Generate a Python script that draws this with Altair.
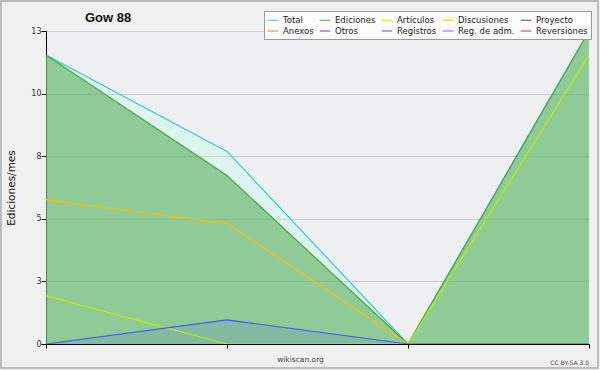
import altair as alt
import pandas as pd

# ---- data ----
months = [0, 1, 2, 3]
total = [12, 8, 0, 13]
ediciones = [12, 7, 0, 13]
articulos = [2, 0, 0, 12]
discusiones = [6, 5, 0, 0]
registros = [0, 1, 0, 0]

legend_names = ["Total", "Ediciones", "Artículos", "Discusiones", "Proyecto",
                "Anexos", "Otros", "Registros", "Reg. de adm.", "Reversiones"]
legend_colors = ["#33cccc", "#44aa44", "#bbee00", "#f0c000", "#555555",
                 "#ff7f2a", "#8822ee", "#4455ff", "#dd33ee", "#ee2222"]

y_ticks = [0, 0.65, 1.3, 1.95, 2.6, 3.25, 3.9, 4.55, 5.2, 5.85, 6.5, 7.15, 7.8,
           8.45, 9.1, 9.75, 10.4, 11.05, 11.7, 12.35, 13]
MAJOR_TEST = "indexof([0, 26, 52, 78, 104, 130], round(datum.value * 10)) >= 0"

rows = []
for name, vals in [("Total", total), ("Ediciones", ediciones), ("Discusiones", discusiones),
                   ("Artículos", articulos), ("Registros", registros)]:
    for m, v in zip(months, vals):
        rows.append({"serie": name, "mes": m, "valor": v})
df = pd.DataFrame(rows)

FONT = "DejaVu Sans"

x_enc = alt.X("mes:Q", scale=alt.Scale(domain=[0, 3], nice=False, zero=False),
              axis=alt.Axis(values=months, labels=False, grid=False, tickSize=4, zindex=1,
                            title="wikiscan.org", titleX=254, titleY=17,
                            titleAlign="center", titleBaseline="alphabetic",
                            titleFontSize=7.5, titleFontWeight="normal",
                            titleColor="#444444", titleFont=FONT))
y_enc = alt.Y("valor:Q", scale=alt.Scale(domain=[0, 13], nice=False),
              axis=alt.Axis(values=y_ticks,
                            labelExpr="(" + MAJOR_TEST + ") ? format(round(datum.value), 'd') : ''",
                            tickSize=alt.condition(MAJOR_TEST, alt.value(5), alt.value(3)),
                            gridOpacity=alt.condition(MAJOR_TEST, alt.value(1), alt.value(0)),
                            labelPadding=0, labelFontSize=8,
                            labelColor="#333333", gridColor="#cccccc",
                            title="Ediciones/mes", titleAngle=-90, titleX=-32,
                            titleY=156.5, titleAlign="center", titleBaseline="alphabetic",
                            titleFontSize=10.5, titleFontWeight="normal",
                            titleColor="#111111", titleFont=FONT))

base = alt.Chart(df)

area_total = base.transform_filter(alt.datum.serie == "Total").mark_area(
    color="#b2fce7", opacity=0.3).encode(x=x_enc, y=y_enc)
area_edic = base.transform_filter(alt.datum.serie == "Ediciones").mark_area(
    color="#5daf5b", opacity=0.6).encode(x="mes:Q", y="valor:Q")
area_reg = base.transform_filter(alt.datum.serie == "Registros").mark_area(
    color="#3344ff", opacity=0.12).encode(x="mes:Q", y="valor:Q")

lines = base.mark_line(strokeWidth=1.2).encode(
    x="mes:Q", y="valor:Q",
    color=alt.Color("serie:N",
                    scale=alt.Scale(domain=legend_names, range=legend_colors),
                    legend=alt.Legend(title=None, orient="none", legendX=218, legendY=-20,
                                      columns=5, direction="horizontal", gridAlign="each",
                                      symbolType="stroke", symbolSize=110,
                                      symbolStrokeWidth=1, labelFontSize=8.5,
                                      labelFont=FONT, labelColor="#222222",
                                      labelOffset=4, columnPadding=3, rowPadding=0,
                                      padding=3, fillColor="#fcfcfc",
                                      strokeColor="#999999", cornerRadius=0)),
    detail="serie:N",
)

title = alt.Chart(pd.DataFrame({"t": ["Gow 88"]})).mark_text(
    font="Liberation Sans", fontSize=13, fontWeight="bold", align="left",
    baseline="alphabetic", color="#111111").encode(
    x=alt.value(39), y=alt.value(-9), text="t:N")

license_txt = alt.Chart(pd.DataFrame({"t": ["CC BY-SA 3.0"]})).mark_text(
    font=FONT, fontSize=6, align="right", baseline="alphabetic", color="#444444").encode(
    x=alt.value(543), y=alt.value(334), text="t:N")

border = alt.Chart(pd.DataFrame({"t": [0]})).mark_rect(
    fill=None, stroke="#aaaaaa", strokeWidth=1.5, clip=False).encode(
    x=alt.value(-45), x2=alt.value(552), y=alt.value(-30), y2=alt.value(337))

chart = alt.layer(area_total, area_edic, area_reg, lines, title, license_txt, border).properties(
    width=543, height=313,
    autosize=alt.AutoSizeParams(type="none"),
    padding={"left": 46, "top": 31, "right": 11, "bottom": 26},
    background="#f0f0f0",
).configure_view(fill="#eeeff1", stroke=None).configure_axis(
    domainColor="black", tickColor="black", labelFont=FONT
)

chart.save("out.html", embed_options={"renderer": "svg", "actions": False})
